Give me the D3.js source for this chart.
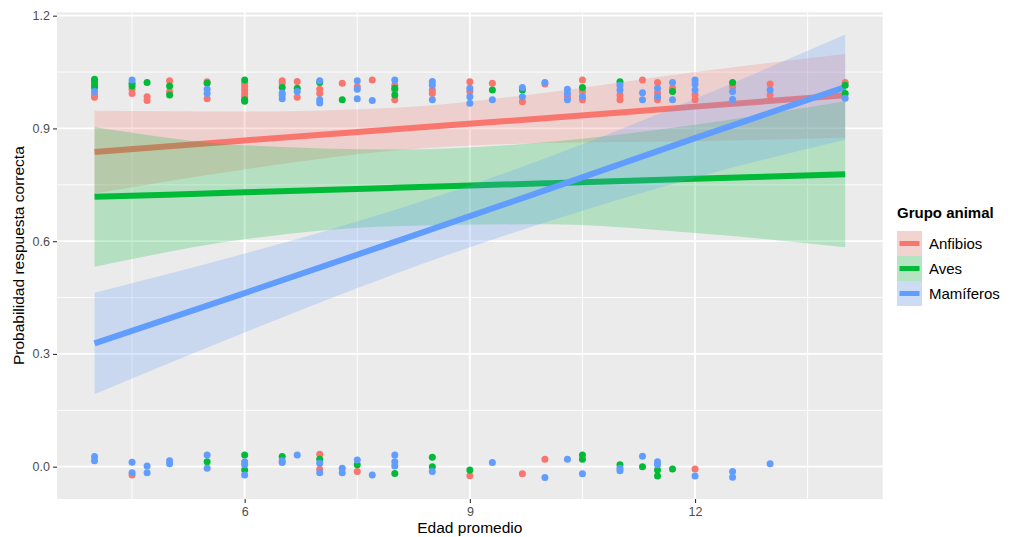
<!DOCTYPE html>
<html>
<head>
<meta charset="utf-8">
<script src="https://cdn.jsdelivr.net/npm/d3@7"></script>
<style>
  body { margin: 0; background: #fff; }
  text { font-family: "Liberation Sans", Arial, sans-serif; }
</style>
</head>
<body>
<div id="chart"></div>
<script>
const groups = ["Anfibios", "Aves", "Mamíferos"];
const colors = ["#F8766D", "#00BA38", "#619CFF"];
const xTicks = [6, 9, 12];
const yTicks = [0, 0.3, 0.6, 0.9, 1.2];

// fitted curve + confidence band, read at these ages
const fitAges = [4, 6, 8, 10, 12, 14];
const anfFit = [0.837, 0.868, 0.898, 0.927, 0.958, 0.988];
const anfLo = [0.727, 0.791, 0.841, 0.861, 0.866, 0.876];
const anfHi = [0.947, 0.945, 0.955, 0.995, 1.05, 1.098];
const avesFit = [0.718, 0.730, 0.742, 0.754, 0.766, 0.778];
const avesLo = [0.532, 0.605, 0.640, 0.645, 0.622, 0.584];
const avesHi = [0.904, 0.855, 0.844, 0.863, 0.91, 0.972];
const mamFit = [0.328, 0.462, 0.598, 0.735, 0.874, 1.01];
const mamLo = [0.193, 0.357, 0.513, 0.65, 0.769, 0.87];
const mamHi = [0.463, 0.567, 0.683, 0.82, 0.979, 1.15];

// jittered observations [age, answer]
const anfibiosPts = [
  [4,0.989],[4,0.983],[4.5,1.004],[4.5,0.993],[4.7,0.984],[4.7,0.974],
  [5,1.027],[5,0.998],[5.5,1.024],[5.5,0.979],
  [6,1.020],[6,1.011],[6,1.002],[6,0.993],[6,0.984],
  [6.5,1.027],[6.5,1.02],[6.7,1.025],[6.7,0.983],[7,1.004],[7,0.993],
  [7.3,1.020],[7.5,1.011],[7.7,1.029],[8,1.015],[8,1.002],[8,0.976],
  [8.5,1.002],[8.5,0.993],[9,1.024],[9,0.998],[9.3,1.020],[9.7,0.971],
  [10,1.018],[10.3,0.984],[10.5,1.029],[10.5,0.998],[10.5,0.976],
  [11,0.989],[11,0.976],[11.3,1.029],[11.5,1.022],[11.5,0.995],[11.5,0.976],
  [11.7,1.007],[12,0.989],[12,0.976],[12.5,1.011],[13,1.018],[13,0.989],[14,1.022],
  [4.5,-0.022],[7,0.033],[7,-0.007],[7.5,-0.013],[9,-0.024],[9.7,-0.019],
  [10,0.020],[12,-0.006]
];
const avesPts = [
  [4,1.031],[4,1.024],[4,1.015],[4,1.009],[4.5,1.020],[4.5,1.013],[4.7,1.022],
  [5,1.013],[5,0.989],[5.5,1.020],[6,1.029],[6,0.976],[6,0.972],[6.5,1.009],
  [6.7,1.007],[7,1.022],[7.3,0.976],[8,1.007],[8,0.989],[9.3,1.002],[9.7,1.002],
  [10.5,1.009],[11,1.024],[11.7,0.998],[12.5,1.022],[14,1.015],[14,0.993],
  [5.5,0.013],[6,0.031],[6,-0.009],[6.5,0.027],[7,0.020],[7.5,0.005],[8,-0.018],
  [8.5,0.025],[8.5,0.000],[9,-0.009],[10.5,0.031],[10.5,0.020],[11,0.005],
  [11.3,0.000],[11.5,-0.009],[11.5,-0.025],[11.7,-0.006]
];
const mamiferosPts = [
  [4,0.998],[4.5,1.029],[5.5,1.004],[5.5,0.993],[6.5,0.994],[6.5,0.989],[6.5,0.979],
  [6.7,0.998],[7,1.027],[7,0.976],[7,0.968],[7.5,1.027],[7.5,1.004],[7.5,0.979],
  [7.7,0.974],[8,1.029],[8.5,1.025],[8.5,1.015],[8.5,0.976],[9,1.007],[9,0.984],
  [9,0.967],[9.3,0.976],[9.7,1.009],[9.7,0.984],[10,1.022],[10.3,1.004],[10.3,0.993],
  [10.3,0.976],[10.5,0.985],[11,1.015],[11,1.002],[11.3,0.995],[11.3,0.976],
  [11.5,1.007],[11.5,0.984],[11.7,1.022],[11.7,0.976],[12,1.029],[12,1.018],
  [12,1.002],[12.5,0.998],[12.5,0.977],[13,1.002],[14,0.980],
  [4,0.027],[4,0.016],[4.5,0.012],[4.5,-0.016],[4.7,0.002],[4.7,-0.016],[5,0.016],
  [5,0.008],[5.5,0.031],[5.5,-0.004],[6,0.013],[6,0.005],[6,-0.022],[6.5,0.011],
  [6.5,0.016],[6.7,0.031],[7,0.009],[7,-0.016],[7.3,-0.004],[7.3,-0.016],[7.5,0.018],
  [7.7,-0.022],[8,0.031],[8,0.013],[8,0.002],[8.5,-0.013],[9.3,0.011],[10,-0.029],
  [10.3,0.020],[10.5,-0.019],[11,-0.004],[11,-0.011],[11.3,0.028],[11.5,0.013],
  [11.5,0.005],[12,-0.025],[12.5,-0.013],[12.5,-0.028],[13,0.008]
];

const width = 1011, height = 537;
const panel = { left: 57, right: 882.7, top: 12.3, bottom: 499 };

const svg = d3.select("#chart").append("svg")
  .attr("width", width).attr("height", height)
  .style("background-color", "white");

const x = d3.scaleLinear().domain([3.5, 14.5]).range([panel.left, panel.right]);
const y = d3.scaleLinear().domain([-0.086, 1.209]).range([panel.bottom, panel.top]);

svg.append("rect")
  .attr("x", panel.left).attr("y", panel.top)
  .attr("width", panel.right - panel.left).attr("height", panel.bottom - panel.top)
  .attr("fill", "#EBEBEB");

// minor grid
[4.5, 7.5, 10.5, 13.5].forEach(v => {
  svg.append("line").attr("x1", x(v)).attr("x2", x(v))
    .attr("y1", panel.top).attr("y2", panel.bottom)
    .attr("stroke", "white").attr("stroke-width", 0.9);
});
[0.15, 0.45, 0.75, 1.05].forEach(v => {
  svg.append("line").attr("x1", panel.left).attr("x2", panel.right)
    .attr("y1", y(v)).attr("y2", y(v))
    .attr("stroke", "white").attr("stroke-width", 0.9);
});
// major grid
xTicks.forEach(v => {
  svg.append("line").attr("x1", x(v)).attr("x2", x(v))
    .attr("y1", panel.top).attr("y2", panel.bottom)
    .attr("stroke", "white").attr("stroke-width", 1.8);
});
yTicks.forEach(v => {
  svg.append("line").attr("x1", panel.left).attr("x2", panel.right)
    .attr("y1", y(v)).attr("y2", y(v))
    .attr("stroke", "white").attr("stroke-width", 1.8);
});

const fits = [
  { fit: anfFit, lo: anfLo, hi: anfHi },
  { fit: avesFit, lo: avesLo, hi: avesHi },
  { fit: mamFit, lo: mamLo, hi: mamHi },
];

let area = d3.area()
  .x(d => x(d.age)).y0(d => y(d.lo)).y1(d => y(d.hi))
  .curve(d3.curveMonotoneX);
let line = d3.line()
  .x(d => x(d.age)).y(d => y(d.fit))
  .curve(d3.curveMonotoneX);

fits.forEach((f, i) => {
  let rows = fitAges.map((a, j) => ({ age: a, fit: f.fit[j], lo: f.lo[j], hi: f.hi[j] }));
  svg.append("path").datum(rows)
    .attr("d", area)
    .attr("fill", colors[i]).attr("fill-opacity", 0.23);
  svg.append("path").datum(rows)
    .attr("d", line)
    .attr("fill", "none").attr("stroke", colors[i]).attr("stroke-width", 6);
});

[anfibiosPts, avesPts, mamiferosPts].forEach((pts, i) => {
  svg.append("g").selectAll("circle").data(pts).enter()
    .append("circle")
    .attr("cx", d => x(d[0])).attr("cy", d => y(d[1]))
    .attr("r", 3.5)
    .attr("fill", colors[i]);
});

// axes
let xAxis = d3.axisBottom(x).tickValues(xTicks).tickSize(4).tickPadding(4).tickFormat(d3.format("d"));
let gx = svg.append("g").attr("transform", "translate(0," + panel.bottom + ")").call(xAxis);
let yAxis = d3.axisLeft(y).tickValues(yTicks).tickSize(4).tickPadding(3).tickFormat(d3.format(".1f"));
let gy = svg.append("g").attr("transform", "translate(" + panel.left + ",0)").call(yAxis);
[gx, gy].forEach(g => {
  g.select(".domain").remove();
  g.selectAll(".tick line").attr("stroke", "#333333").attr("stroke-width", 1.1);
  g.selectAll(".tick text")
    .attr("fill", "#4D4D4D")
    .style("font-size", "12.5px")
    .style("font-family", "'Liberation Sans', Arial, sans-serif");
});

svg.append("text")
  .attr("x", (panel.left + panel.right) / 2).attr("y", 533)
  .attr("text-anchor", "middle")
  .style("font-size", "15.5px")
  .attr("fill", "black")
  .text("Edad promedio");

svg.append("text")
  .attr("transform", "translate(24," + (panel.top + panel.bottom) / 2 + ") rotate(-90)")
  .attr("text-anchor", "middle")
  .style("font-size", "15.5px")
  .attr("fill", "black")
  .text("Probabilidad respuesta correcta");

// legend
let legend = svg.append("g").attr("transform", "translate(897,0)");
legend.append("text")
  .attr("x", 0).attr("y", 218)
  .style("font-size", "15px").style("font-weight", "bold")
  .text("Grupo animal");
groups.forEach((g, i) => {
  let top = 231 + i * 25;
  legend.append("rect")
    .attr("x", 0).attr("y", top).attr("width", 25).attr("height", 25)
    .attr("fill", "#F2F2F2");
  legend.append("rect")
    .attr("x", 0).attr("y", top).attr("width", 25).attr("height", 25)
    .attr("fill", colors[i]).attr("fill-opacity", 0.25);
  legend.append("line")
    .attr("x1", 2.5).attr("x2", 22.5)
    .attr("y1", top + 12.5).attr("y2", top + 12.5)
    .attr("stroke", colors[i]).attr("stroke-width", 5);
  legend.append("text")
    .attr("x", 32).attr("y", top + 18)
    .style("font-size", "15px")
    .text(g);
});
</script>
</body>
</html>
